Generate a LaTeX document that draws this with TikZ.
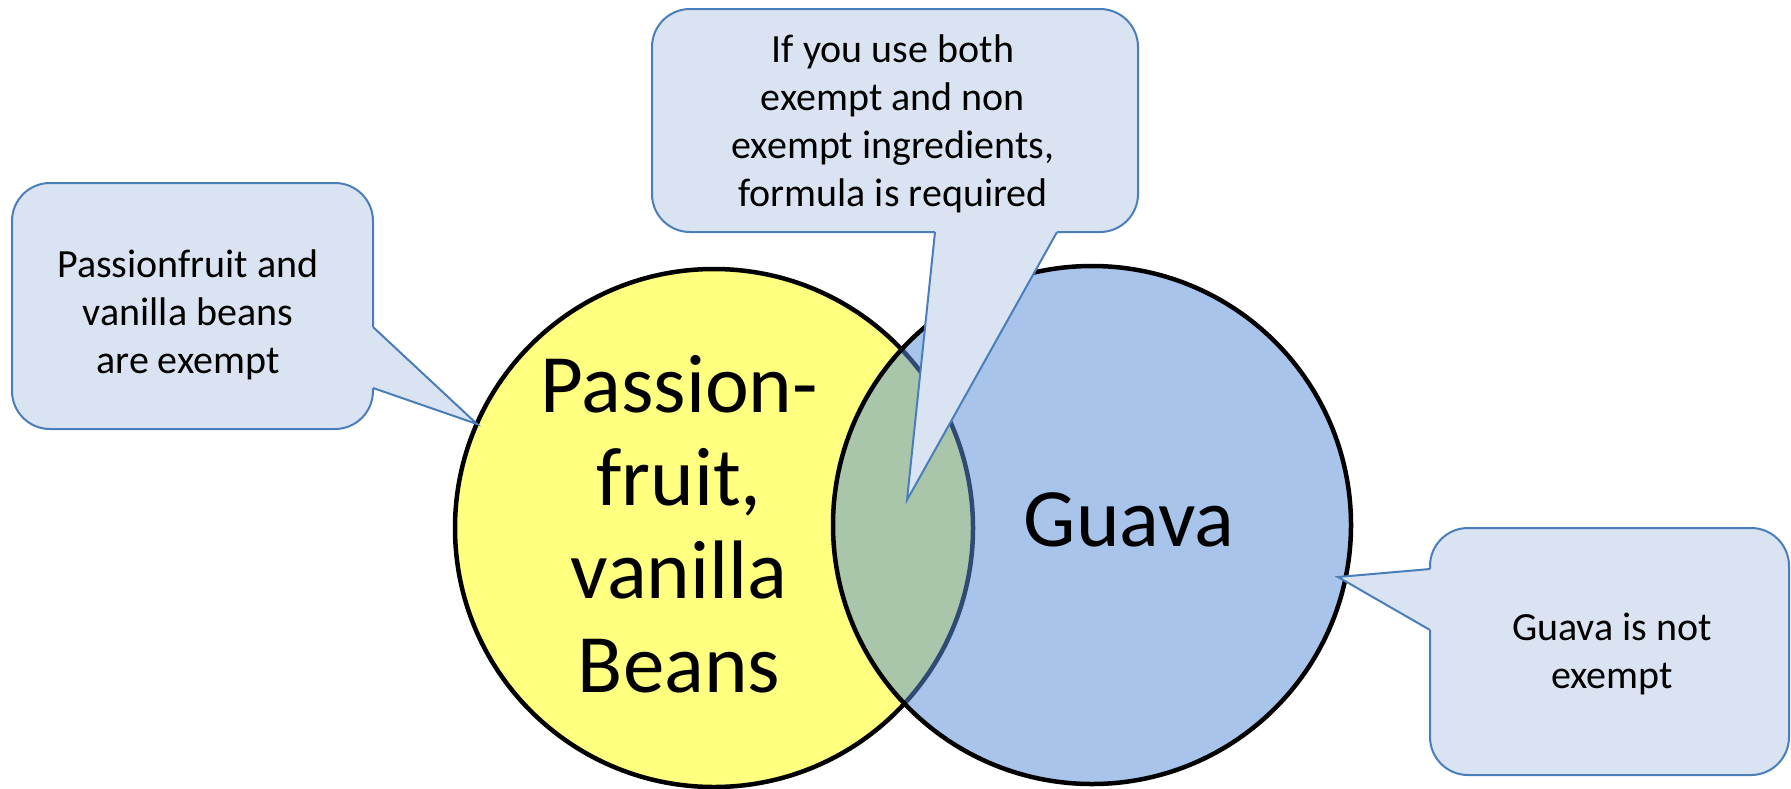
\documentclass[tikz,border=0pt]{standalone}
\usepackage{fontspec}
\setmainfont{Carlito}
\definecolor{yel}{HTML}{FFFF80}
\definecolor{blu}{HTML}{A9C4EB}
\definecolor{ovl}{HTML}{A9C5AA}
\definecolor{darkarc}{HTML}{2F4B73}
\definecolor{calfill}{HTML}{DAE3F1}
\definecolor{calline}{HTML}{4A7EBB}
\begin{document}
\begin{tikzpicture}[x=1pt,y=-1pt,
  ring/.style={line width=4.5pt},
  calbox/.style={draw=calline, fill=calfill, line width=2pt, rounded corners=38pt, inner sep=0pt},
  calwedge/.style={draw=calline, line width=2pt, line join=miter},
  small/.style={font=\fontsize{40}{48}\selectfont, anchor=base, inner sep=0pt},
  big/.style={font=\fontsize{83}{93}\selectfont, anchor=base, inner sep=0pt}]
\useasboundingbox (0,0) rectangle (1791,788);

% circles
\coordinate (yc) at (714,528);
\coordinate (bc) at (1092,525);
\filldraw[fill=yel, draw=black, ring] (yc) circle[radius=259];
\fill[blu] (bc) circle[radius=259];
\begin{scope}
  \clip (yc) circle[radius=259];
  \fill[ovl] (bc) circle[radius=259];
\end{scope}
\begin{scope}
  \clip (bc) circle[radius=259];
  \draw[darkarc, ring] (yc) circle[radius=259];
\end{scope}
\draw[black, ring] (bc) circle[radius=259];

% circle labels
\node[big] (p1) at (679,412) {Passion-};
\node[big] (p2) at (679,505) {fruit,};
\node[big] (p3) at (679,598) {vanilla};
\node[big] (p4) at (679,692) {Beans};
\node[big] (g1) at (1129,546) {Guava};

% left callout
\node[calbox, minimum width=361pt, minimum height=246pt] (calL) at (192.5,306) {};
\coordinate (tipL) at (477,424);
\fill[calfill] (369,327) -- (373,327) -- (tipL) -- (373,388) -- (369,388) -- cycle;
\draw[calwedge] (373,327) -- (tipL) -- (373,388);
\node[small] (l1) at (188,277) {Passionfruit and};
\node[small] (l2) at (188,325) {vanilla beans};
\node[small] (l3) at (188,373) {are exempt};

% top callout
\node[calbox, minimum width=486pt, minimum height=223pt] (calT) at (895,120.5) {};
\coordinate (tipT) at (907,500);
\fill[calfill] (935,228) -- (935,232) -- (tipT) -- (1057,232) -- (1057,228) -- cycle;
\draw[calwedge] (935,232) -- (tipT) -- (1057,232);
\node[small] (t1) at (893,62) {If you use both};
\node[small] (t2) at (893,110) {exempt and non};
\node[small] (t3) at (893,158) {exempt ingredients,};
\node[small] (t4) at (893,206) {formula is required};

% right callout
\node[calbox, minimum width=359pt, minimum height=247pt] (calR) at (1609.5,651.5) {};
\coordinate (tipR) at (1338,577);
\fill[calfill] (1434,569) -- (1430,569) -- (tipR) -- (1430,630) -- (1434,630) -- cycle;
\draw[calwedge] (1430,569) -- (tipR) -- (1430,630);
\node[small] (r1) at (1612,640) {Guava is not};
\node[small] (r2) at (1612,688) {exempt};
\end{tikzpicture}
\end{document}
